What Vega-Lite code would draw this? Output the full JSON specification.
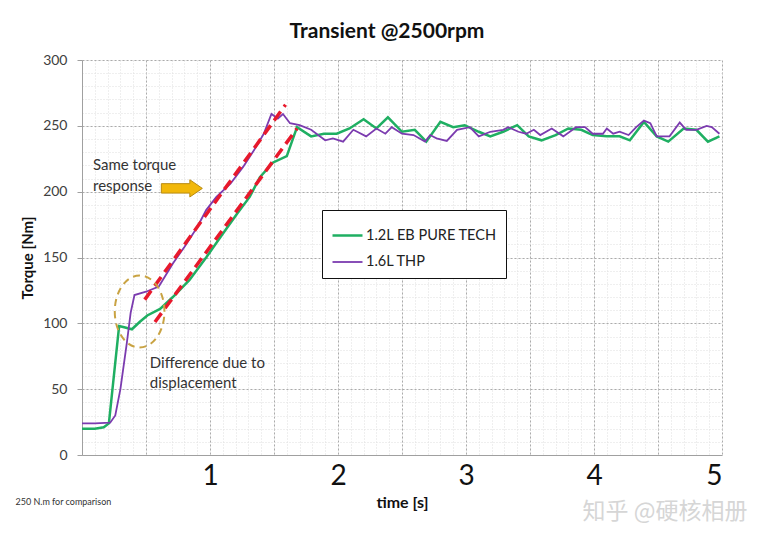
{
  "$schema": "https://vega.github.io/schema/vega-lite/v6.json",
  "width": 640,
  "height": 395,
  "autosize": {"type": "none"},
  "padding": {"left": 82, "top": 60, "right": 60, "bottom": 82},
  "background": "white",
  "title": {
    "text": "Transient @2500rpm",
    "font": "Lato",
    "fontSize": 21,
    "fontWeight": "bold",
    "color": "#111111",
    "anchor": "middle",
    "dx": -15,
    "offset": 11
  },
  "config": {
    "font": "Lato",
    "view": {"stroke": null},
    "axis": {"labelFont": "Lato", "titleFont": "Lato"},
    "legend": {"labelFont": "Lato"}
  },
  "datasets": {
    "curves": [
      {"t": 0, "torque": 20, "engine": "1.2L EB PURE TECH"},
      {"t": 0.1, "torque": 20, "engine": "1.2L EB PURE TECH"},
      {"t": 0.17, "torque": 21, "engine": "1.2L EB PURE TECH"},
      {"t": 0.21, "torque": 24, "engine": "1.2L EB PURE TECH"},
      {"t": 0.29, "torque": 98, "engine": "1.2L EB PURE TECH"},
      {"t": 0.33, "torque": 97, "engine": "1.2L EB PURE TECH"},
      {"t": 0.39, "torque": 95.5, "engine": "1.2L EB PURE TECH"},
      {"t": 0.45, "torque": 101, "engine": "1.2L EB PURE TECH"},
      {"t": 0.51, "torque": 106, "engine": "1.2L EB PURE TECH"},
      {"t": 0.61, "torque": 111, "engine": "1.2L EB PURE TECH"},
      {"t": 0.71, "torque": 120, "engine": "1.2L EB PURE TECH"},
      {"t": 0.84, "torque": 133, "engine": "1.2L EB PURE TECH"},
      {"t": 0.97, "torque": 150, "engine": "1.2L EB PURE TECH"},
      {"t": 1.1, "torque": 168, "engine": "1.2L EB PURE TECH"},
      {"t": 1.21, "torque": 183, "engine": "1.2L EB PURE TECH"},
      {"t": 1.31, "torque": 196, "engine": "1.2L EB PURE TECH"},
      {"t": 1.39, "torque": 211, "engine": "1.2L EB PURE TECH"},
      {"t": 1.49, "torque": 222, "engine": "1.2L EB PURE TECH"},
      {"t": 1.6, "torque": 227, "engine": "1.2L EB PURE TECH"},
      {"t": 1.68, "torque": 249, "engine": "1.2L EB PURE TECH"},
      {"t": 1.79, "torque": 242, "engine": "1.2L EB PURE TECH"},
      {"t": 1.89, "torque": 244, "engine": "1.2L EB PURE TECH"},
      {"t": 1.99, "torque": 244, "engine": "1.2L EB PURE TECH"},
      {"t": 2.09, "torque": 248, "engine": "1.2L EB PURE TECH"},
      {"t": 2.2, "torque": 255, "engine": "1.2L EB PURE TECH"},
      {"t": 2.3, "torque": 248, "engine": "1.2L EB PURE TECH"},
      {"t": 2.39, "torque": 256.5, "engine": "1.2L EB PURE TECH"},
      {"t": 2.5, "torque": 245.5, "engine": "1.2L EB PURE TECH"},
      {"t": 2.6, "torque": 247, "engine": "1.2L EB PURE TECH"},
      {"t": 2.69, "torque": 238, "engine": "1.2L EB PURE TECH"},
      {"t": 2.8, "torque": 253, "engine": "1.2L EB PURE TECH"},
      {"t": 2.9, "torque": 249, "engine": "1.2L EB PURE TECH"},
      {"t": 2.99, "torque": 250.5, "engine": "1.2L EB PURE TECH"},
      {"t": 3.1, "torque": 245.5, "engine": "1.2L EB PURE TECH"},
      {"t": 3.19, "torque": 242, "engine": "1.2L EB PURE TECH"},
      {"t": 3.29, "torque": 245.5, "engine": "1.2L EB PURE TECH"},
      {"t": 3.4, "torque": 250.5, "engine": "1.2L EB PURE TECH"},
      {"t": 3.49, "torque": 242, "engine": "1.2L EB PURE TECH"},
      {"t": 3.59, "torque": 239, "engine": "1.2L EB PURE TECH"},
      {"t": 3.7, "torque": 243, "engine": "1.2L EB PURE TECH"},
      {"t": 3.8, "torque": 248, "engine": "1.2L EB PURE TECH"},
      {"t": 3.9, "torque": 247, "engine": "1.2L EB PURE TECH"},
      {"t": 3.99, "torque": 243, "engine": "1.2L EB PURE TECH"},
      {"t": 4.1, "torque": 242, "engine": "1.2L EB PURE TECH"},
      {"t": 4.2, "torque": 242, "engine": "1.2L EB PURE TECH"},
      {"t": 4.28, "torque": 239, "engine": "1.2L EB PURE TECH"},
      {"t": 4.39, "torque": 253, "engine": "1.2L EB PURE TECH"},
      {"t": 4.49, "torque": 242, "engine": "1.2L EB PURE TECH"},
      {"t": 4.58, "torque": 238, "engine": "1.2L EB PURE TECH"},
      {"t": 4.7, "torque": 248, "engine": "1.2L EB PURE TECH"},
      {"t": 4.8, "torque": 247, "engine": "1.2L EB PURE TECH"},
      {"t": 4.89, "torque": 238, "engine": "1.2L EB PURE TECH"},
      {"t": 4.98, "torque": 242, "engine": "1.2L EB PURE TECH"},
      {"t": 0, "torque": 24, "engine": "1.6L THP"},
      {"t": 0.1, "torque": 24, "engine": "1.6L THP"},
      {"t": 0.22, "torque": 24.5, "engine": "1.6L THP"},
      {"t": 0.26, "torque": 30, "engine": "1.6L THP"},
      {"t": 0.3, "torque": 50, "engine": "1.6L THP"},
      {"t": 0.35, "torque": 85, "engine": "1.6L THP"},
      {"t": 0.38, "torque": 108, "engine": "1.6L THP"},
      {"t": 0.41, "torque": 121.5, "engine": "1.6L THP"},
      {"t": 0.5, "torque": 124, "engine": "1.6L THP"},
      {"t": 0.6, "torque": 128, "engine": "1.6L THP"},
      {"t": 0.71, "torque": 145.5, "engine": "1.6L THP"},
      {"t": 0.8, "torque": 158, "engine": "1.6L THP"},
      {"t": 0.9, "torque": 173, "engine": "1.6L THP"},
      {"t": 0.97, "torque": 186, "engine": "1.6L THP"},
      {"t": 1.05, "torque": 196, "engine": "1.6L THP"},
      {"t": 1.16, "torque": 206, "engine": "1.6L THP"},
      {"t": 1.26, "torque": 219, "engine": "1.6L THP"},
      {"t": 1.36, "torque": 234, "engine": "1.6L THP"},
      {"t": 1.42, "torque": 244, "engine": "1.6L THP"},
      {"t": 1.48, "torque": 259, "engine": "1.6L THP"},
      {"t": 1.53, "torque": 255.5, "engine": "1.6L THP"},
      {"t": 1.57, "torque": 259, "engine": "1.6L THP"},
      {"t": 1.625, "torque": 252, "engine": "1.6L THP"},
      {"t": 1.7, "torque": 250.5, "engine": "1.6L THP"},
      {"t": 1.79, "torque": 247, "engine": "1.6L THP"},
      {"t": 1.9, "torque": 239, "engine": "1.6L THP"},
      {"t": 1.96, "torque": 240.5, "engine": "1.6L THP"},
      {"t": 2.04, "torque": 238, "engine": "1.6L THP"},
      {"t": 2.12, "torque": 247, "engine": "1.6L THP"},
      {"t": 2.22, "torque": 242, "engine": "1.6L THP"},
      {"t": 2.3, "torque": 248, "engine": "1.6L THP"},
      {"t": 2.37, "torque": 244, "engine": "1.6L THP"},
      {"t": 2.42, "torque": 249, "engine": "1.6L THP"},
      {"t": 2.5, "torque": 244, "engine": "1.6L THP"},
      {"t": 2.59, "torque": 243, "engine": "1.6L THP"},
      {"t": 2.68, "torque": 238, "engine": "1.6L THP"},
      {"t": 2.72, "torque": 243, "engine": "1.6L THP"},
      {"t": 2.77, "torque": 240.5, "engine": "1.6L THP"},
      {"t": 2.85, "torque": 238.5, "engine": "1.6L THP"},
      {"t": 2.93, "torque": 247, "engine": "1.6L THP"},
      {"t": 3.03, "torque": 249, "engine": "1.6L THP"},
      {"t": 3.1, "torque": 242, "engine": "1.6L THP"},
      {"t": 3.19, "torque": 245.5, "engine": "1.6L THP"},
      {"t": 3.29, "torque": 247, "engine": "1.6L THP"},
      {"t": 3.33, "torque": 249, "engine": "1.6L THP"},
      {"t": 3.41, "torque": 245.5, "engine": "1.6L THP"},
      {"t": 3.47, "torque": 244, "engine": "1.6L THP"},
      {"t": 3.53, "torque": 247, "engine": "1.6L THP"},
      {"t": 3.58, "torque": 243, "engine": "1.6L THP"},
      {"t": 3.67, "torque": 248, "engine": "1.6L THP"},
      {"t": 3.76, "torque": 242, "engine": "1.6L THP"},
      {"t": 3.86, "torque": 249, "engine": "1.6L THP"},
      {"t": 3.93, "torque": 249, "engine": "1.6L THP"},
      {"t": 3.99, "torque": 244, "engine": "1.6L THP"},
      {"t": 4.07, "torque": 244, "engine": "1.6L THP"},
      {"t": 4.1, "torque": 248, "engine": "1.6L THP"},
      {"t": 4.15, "torque": 244, "engine": "1.6L THP"},
      {"t": 4.2, "torque": 245.5, "engine": "1.6L THP"},
      {"t": 4.27, "torque": 243, "engine": "1.6L THP"},
      {"t": 4.33, "torque": 249, "engine": "1.6L THP"},
      {"t": 4.39, "torque": 254, "engine": "1.6L THP"},
      {"t": 4.44, "torque": 252, "engine": "1.6L THP"},
      {"t": 4.49, "torque": 242, "engine": "1.6L THP"},
      {"t": 4.59, "torque": 242, "engine": "1.6L THP"},
      {"t": 4.67, "torque": 252.5, "engine": "1.6L THP"},
      {"t": 4.72, "torque": 247, "engine": "1.6L THP"},
      {"t": 4.8, "torque": 247, "engine": "1.6L THP"},
      {"t": 4.88, "torque": 250, "engine": "1.6L THP"},
      {"t": 4.92, "torque": 249, "engine": "1.6L THP"},
      {"t": 4.98, "torque": 244, "engine": "1.6L THP"}
    ],
    "fits": [
      {"t": 0.49, "torque": 118, "fit": "upper"},
      {"t": 1.59, "torque": 266, "fit": "upper"},
      {"t": 0.57, "torque": 101, "fit": "lower"},
      {"t": 1.68, "torque": 248, "fit": "lower"}
    ],
    "ellipse": [{"t": 0.45, "torque": 109}],
    "arrow": [{"t": 0.78, "torque": 202.5}],
    "notes": [
      {"t": 0.086, "torque": 220, "label": "Same torque"},
      {"t": 0.086, "torque": 204, "label": "response"},
      {"t": 0.53, "torque": 69.6, "label": "Difference due to"},
      {"t": 0.53, "torque": 54.4, "label": "displacement"}
    ],
    "footer": [{"t": -0.52, "torque": -36, "label": "250 N.m for comparison"}],
    "watermark": [{"t": 3.91, "torque": -43, "label": "知乎 @硬核相册"}]
  },
  "resolve": {"axis": {"x": "independent", "y": "independent"}},
  "layer": [
    {
      "data": {"name": "curves"},
      "mark": {"type": "line", "clip": true},
      "encoding": {
        "x": {
          "field": "t",
          "type": "quantitative",
          "scale": {"domain": [0, 5], "nice": false, "zero": false},
          "axis": {
            "orient": "bottom",
            "values": [0, 0.1, 0.2, 0.3, 0.4, 0.5, 0.6, 0.7, 0.8, 0.9, 1, 1.1, 1.2, 1.3, 1.4, 1.5, 1.6, 1.7, 1.8, 1.9, 2, 2.1, 2.2, 2.3, 2.4, 2.5, 2.6, 2.7, 2.8, 2.9, 3, 3.1, 3.2, 3.3, 3.4, 3.5, 3.6, 3.7, 3.8, 3.9, 4, 4.1, 4.2, 4.3, 4.4, 4.5, 4.6, 4.7, 4.8, 4.9, 5],
            "grid": true,
            "gridColor": "#dedede",
            "gridDash": [1, 2],
            "labels": false,
            "ticks": false,
            "domain": false,
            "title": null
          }
        },
        "y": {
          "field": "torque",
          "type": "quantitative",
          "scale": {"domain": [0, 300], "nice": false},
          "axis": {
            "orient": "left",
            "values": [0, 10, 20, 30, 40, 50, 60, 70, 80, 90, 100, 110, 120, 130, 140, 150, 160, 170, 180, 190, 200, 210, 220, 230, 240, 250, 260, 270, 280, 290, 300],
            "grid": true,
            "gridColor": "#dedede",
            "gridDash": [1, 2],
            "labels": false,
            "ticks": false,
            "domain": false,
            "title": null
          }
        },
        "color": {
          "field": "engine",
          "type": "nominal",
          "scale": {"domain": ["1.2L EB PURE TECH", "1.6L THP"], "range": ["#1FAF62", "#7B3BAF"]},
          "legend": {
            "title": null,
            "orient": "none",
            "legendX": 240,
            "legendY": 150,
            "direction": "vertical",
            "fillColor": "white",
            "strokeColor": "#111111",
            "padding": 9,
            "symbolType": "stroke",
            "symbolSize": 900,
            "symbolStrokeWidth": 3,
            "rowPadding": 4,
            "labelFontSize": 14.5,
            "labelColor": "#222222",
            "labelOffset": 2,
            "labelLimit": 300
          }
        },
        "strokeWidth": {
          "field": "engine",
          "type": "nominal",
          "scale": {"domain": ["1.2L EB PURE TECH", "1.6L THP"], "range": [2.5, 1.8]},
          "legend": null
        }
      }
    },
    {
      "data": {"name": "fits"},
      "mark": {"type": "line", "color": "#E8192C", "strokeWidth": 3.5, "strokeDash": [11, 6]},
      "encoding": {
        "x": {
          "field": "t",
          "type": "quantitative",
          "axis": {
            "orient": "bottom",
            "values": [0, 0.5, 1, 1.5, 2, 2.5, 3, 3.5, 4, 4.5, 5],
            "format": "~g",
            "labelExpr": "datum.value > 0 && datum.value % 1 == 0 ? datum.label : ''",
            "grid": true,
            "gridColor": "#ababab",
            "gridDash": [2, 2],
            "ticks": false,
            "tickSize": 0,
            "domain": true,
            "domainColor": "#a0a0a0",
            "labelFontSize": 28,
            "labelColor": "#111111",
            "labelPadding": 7,
            "title": "time [s]",
            "titleFontSize": 16,
            "titleFontWeight": "bold",
            "titleColor": "#111111",
            "titlePadding": 4
          }
        },
        "y": {
          "field": "torque",
          "type": "quantitative",
          "axis": {
            "orient": "left",
            "values": [0, 50, 100, 150, 200, 250, 300],
            "grid": true,
            "gridColor": "#ababab",
            "gridDash": [2, 2],
            "ticks": true,
            "tickSize": 5,
            "tickColor": "#a0a0a0",
            "domain": true,
            "domainColor": "#a0a0a0",
            "labelFontSize": 14,
            "labelColor": "#404040",
            "labelPadding": 10,
            "title": "Torque [Nm]",
            "titleFontSize": 15,
            "titleFontWeight": "bold",
            "titleColor": "#111111",
            "titlePadding": 7
          }
        },
        "detail": {"field": "fit", "type": "nominal"}
      }
    },
    {
      "data": {"name": "ellipse"},
      "mark": {
        "type": "point",
        "shape": "M -0.69,0 A 0.69,1 0 1,0 0.69,0 A 0.69,1 0 1,0 -0.69,0 Z",
        "size": 5184,
        "filled": false,
        "stroke": "#C9A343",
        "strokeWidth": 2,
        "strokeDash": [7, 5],
        "opacity": 1
      },
      "encoding": {
        "x": {"field": "t", "type": "quantitative", "axis": null},
        "y": {"field": "torque", "type": "quantitative", "axis": null}
      }
    },
    {
      "data": {"name": "arrow"},
      "mark": {
        "type": "point",
        "shape": "M -1,-0.23 L 0.39,-0.23 L 0.39,-0.42 L 1,0 L 0.39,0.42 L 0.39,0.23 L -1,0.23 Z",
        "size": 1681,
        "filled": true,
        "fill": "#F2B80A",
        "stroke": "#B88A10",
        "strokeWidth": 1,
        "opacity": 1
      },
      "encoding": {
        "x": {"field": "t", "type": "quantitative", "axis": null},
        "y": {"field": "torque", "type": "quantitative", "axis": null}
      }
    },
    {
      "data": {"name": "notes"},
      "mark": {"type": "text", "align": "left", "baseline": "middle", "font": "Lato", "fontSize": 15, "color": "#333333"},
      "encoding": {
        "x": {"field": "t", "type": "quantitative", "axis": null},
        "y": {"field": "torque", "type": "quantitative", "axis": null},
        "text": {"field": "label"}
      }
    },
    {
      "data": {"name": "footer"},
      "mark": {"type": "text", "align": "left", "baseline": "middle", "font": "Lato", "fontSize": 9, "color": "#333333"},
      "encoding": {
        "x": {"field": "t", "type": "quantitative", "axis": null},
        "y": {"field": "torque", "type": "quantitative", "axis": null},
        "text": {"field": "label"}
      }
    },
    {
      "data": {"name": "watermark"},
      "mark": {"type": "text", "align": "left", "baseline": "middle", "font": "Noto Sans CJK SC", "fontSize": 23, "color": "#d6d6d6"},
      "encoding": {
        "x": {"field": "t", "type": "quantitative", "axis": null},
        "y": {"field": "torque", "type": "quantitative", "axis": null},
        "text": {"field": "label"}
      }
    }
  ]
}
